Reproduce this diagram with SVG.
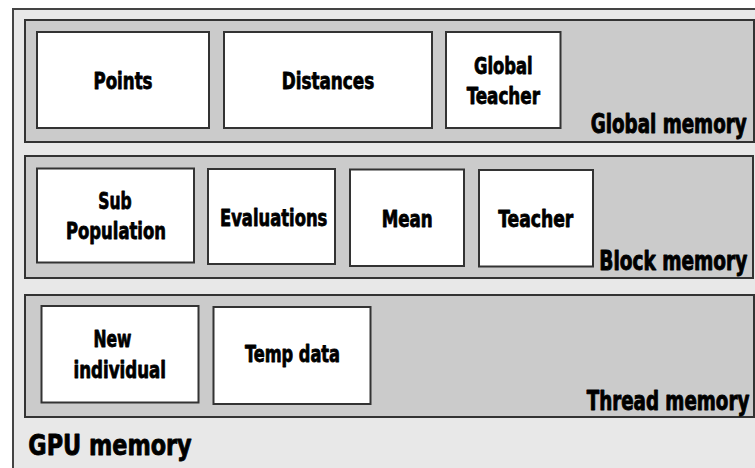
<svg xmlns="http://www.w3.org/2000/svg" width="755" height="468" viewBox="0 0 755 468">
  <style>
    .outer { fill: #e8e8e8; stroke: #444; stroke-width: 2; }
    .panel { fill: #cbcbcb; stroke: #333; stroke-width: 2; }
    .box { fill: #ffffff; stroke: #333; stroke-width: 2; }
    text { font-family: "DejaVu Sans Condensed", "Liberation Sans", sans-serif; font-weight: bold; fill: #000; stroke: #000; stroke-width: 0.8; stroke-linejoin: round; }
    .lbl { font-size: 23.5px; }
    .mem { font-size: 20px; text-anchor: end; stroke-width: 0.7; }
    .gpu { font-size: 28.5px; }
  </style>

  <!-- GPU memory container -->
  <g id="gpu-memory">
    <rect class="outer" x="13" y="9" width="760" height="470"/>
    <text class="gpu" x="28.3" y="455" textLength="163.4" lengthAdjust="spacingAndGlyphs">GPU memory</text>
  </g>

  <!-- Global memory level -->
  <g id="global-memory">
    <rect class="panel" x="25" y="20" width="729" height="122"/>
    <text class="mem" transform="translate(746.7 133) scale(1 1.35)" x="0" y="0" textLength="156" lengthAdjust="spacingAndGlyphs">Global memory</text>
  </g>
  <g id="points">
    <rect class="box" x="37" y="32" width="172" height="96"/>
    <text class="lbl" x="93.5" y="88.5" textLength="59" lengthAdjust="spacingAndGlyphs">Points</text>
  </g>
  <g id="distances">
    <rect class="box" x="224" y="32" width="208" height="96"/>
    <text class="lbl" x="281.7" y="88.5" textLength="92.6" lengthAdjust="spacingAndGlyphs">Distances</text>
  </g>
  <g id="global-teacher">
    <rect class="box" x="446" y="32" width="114.5" height="96"/>
    <text class="lbl" x="474" y="73.8" textLength="58.7" lengthAdjust="spacingAndGlyphs">Global</text>
    <text class="lbl" x="466.7" y="104" textLength="73.3" lengthAdjust="spacingAndGlyphs">Teacher</text>
  </g>

  <!-- Block memory level -->
  <g id="block-memory">
    <rect class="panel" x="25" y="156" width="728" height="122"/>
    <text class="mem" transform="translate(747.3 269.5) scale(1 1.35)" x="0" y="0" textLength="148" lengthAdjust="spacingAndGlyphs">Block memory</text>
  </g>
  <g id="sub-population">
    <rect class="box" x="37" y="168.5" width="157" height="94"/>
    <text class="lbl" x="98.3" y="208.8" textLength="33.4" lengthAdjust="spacingAndGlyphs">Sub</text>
    <text class="lbl" x="66" y="238.8" textLength="100" lengthAdjust="spacingAndGlyphs">Population</text>
  </g>
  <g id="evaluations">
    <rect class="box" x="208" y="169" width="127" height="95"/>
    <text class="lbl" x="220" y="225.5" textLength="107.3" lengthAdjust="spacingAndGlyphs">Evaluations</text>
  </g>
  <g id="mean">
    <rect class="box" x="350" y="169.5" width="114" height="96.5"/>
    <text class="lbl" x="381.7" y="226.5" textLength="51" lengthAdjust="spacingAndGlyphs">Mean</text>
  </g>
  <g id="teacher">
    <rect class="box" x="479" y="170" width="114" height="96.5"/>
    <text class="lbl" x="498.3" y="227" textLength="75" lengthAdjust="spacingAndGlyphs">Teacher</text>
  </g>

  <!-- Thread memory level -->
  <g id="thread-memory">
    <rect class="panel" x="25" y="295" width="729" height="122"/>
    <text class="mem" transform="translate(749.3 409.5) scale(1 1.35)" x="0" y="0" textLength="162.6" lengthAdjust="spacingAndGlyphs">Thread memory</text>
  </g>
  <g id="new-individual">
    <rect class="box" x="41.5" y="306" width="157" height="96.5"/>
    <text class="lbl" x="93.5" y="347" textLength="38" lengthAdjust="spacingAndGlyphs">New</text>
    <text class="lbl" x="73.5" y="377.5" textLength="92.5" lengthAdjust="spacingAndGlyphs">individual</text>
  </g>
  <g id="temp-data">
    <rect class="box" x="213.5" y="307" width="157" height="97"/>
    <text class="lbl" x="245" y="362" textLength="95" lengthAdjust="spacingAndGlyphs">Temp data</text>
  </g>

  <g id="connectors"/>
</svg>
